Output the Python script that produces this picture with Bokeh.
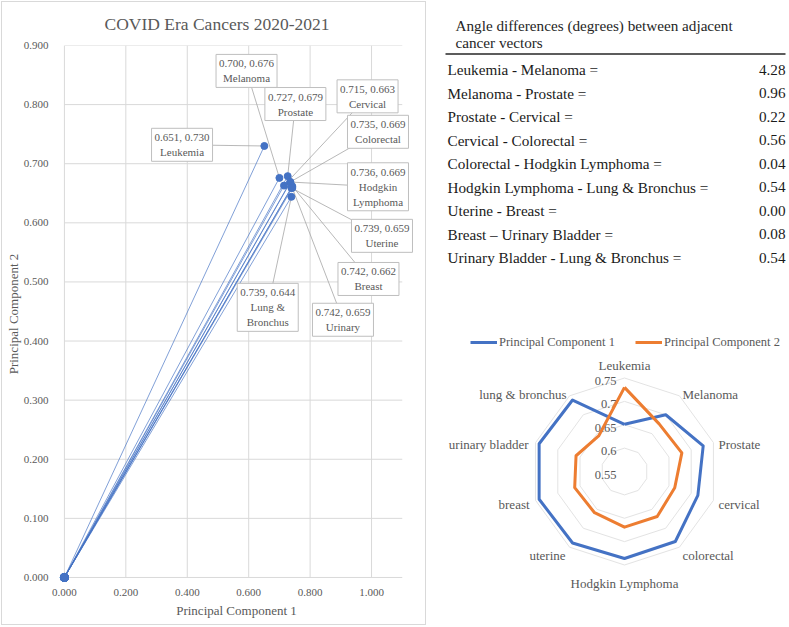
import math
from bokeh.plotting import figure
from bokeh.models import Range1d, FixedTicker, NumeralTickFormatter, Legend, LegendItem, Label
from bokeh.layouts import row, column
from bokeh.embed import file_html
from bokeh.resources import INLINE
from bokeh.core.properties import value

# ---------------- data ----------------
scatter_names = ["Leukemia", "Melanoma", "Prostate", "Cervical", "Colorectal",
                 "Hodgkin\nLymphoma", "Uterine", "Breast", "Urinary", "Lung &\nBronchus"]
pc1 = [0.651, 0.700, 0.727, 0.715, 0.735, 0.736, 0.739, 0.742, 0.742, 0.739]
pc2 = [0.730, 0.676, 0.679, 0.663, 0.669, 0.669, 0.659, 0.662, 0.659, 0.644]
radar_names = ["Leukemia", "Melanoma", "Prostate", "cervical", "colorectal",
               "Hodgkin Lymphoma", "uterine", "breast", "urinary bladder", "lung & bronchus"]
radar_ticks = [0.55, 0.60, 0.65, 0.70, 0.75]
x_ticks = [0.0, 0.2, 0.4, 0.6, 0.8, 1.0]
y_ticks = [0.0, 0.1, 0.2, 0.3, 0.4, 0.5, 0.6, 0.7, 0.8, 0.9]
x_axis_max = 1.1
pair_labels = ["Leukemia - Melanoma =", "Melanoma - Prostate =", "Prostate - Cervical =",
               "Cervical - Colorectal =", "Colorectal - Hodgkin Lymphoma =",
               "Hodgkin Lymphoma - Lung & Bronchus =", "Uterine - Breast =",
               "Breast \u2013 Urinary Bladder =", "Urinary Bladder - Lung & Bronchus ="]
angle_diffs = [4.28, 0.96, 0.22, 0.56, 0.04, 0.54, 0.00, 0.08, 0.54]
table_title = ["Angle differences (degrees) between adjacent", "cancer vectors"]

# ---------------- layout / style (not data) ----------------
FONT = "Liberation Serif"
GREY = "#595959"
BLUE = "#4472C4"
ORANGE = "#ED7D31"
GRID = "#d9d9d9"
# data-label box centres (chart coordinates)
label_box_x = [0.383, 0.593, 0.752, 0.987, 1.021, 1.021, 1.034, 0.990, 0.907, 0.662]
label_box_y = [0.732, 0.857, 0.801, 0.814, 0.754, 0.661, 0.578, 0.505, 0.436, 0.457]

# ---------------- left: scatter ----------------
p = figure(width=423, height=622, x_range=Range1d(-0.016, 1.1366), y_range=Range1d(-0.0085, 0.9),
           output_backend="svg", toolbar_location=None,
           min_border_left=56, min_border_right=12, min_border_top=43, min_border_bottom=42,
           title="COVID Era Cancers 2020-2021")
p.margin = (2, 1, 3, 2)
p.styles = {"outline": "1px solid #d9d9d9"}
p.outline_line_color = None
p.title.align = "left"
p.title.offset = 45
p.title.standoff = 20
p.title.vertical_align = "top"
p.title.text_font = FONT
p.title.text_font_size = "17.5px"
p.title.text_font_style = "normal"
p.title.text_color = GREY

p.xaxis.ticker = FixedTicker(ticks=x_ticks)
p.yaxis.ticker = FixedTicker(ticks=y_ticks)
p.xaxis.formatter = NumeralTickFormatter(format="0.000")
p.yaxis.formatter = NumeralTickFormatter(format="0.000")
p.xaxis.axis_label = "Principal Component 1"
p.yaxis.axis_label = "Principal Component 2"
for ax in (p.xaxis, p.yaxis):
    ax.major_tick_line_color = None
    ax.minor_tick_line_color = None
    ax.axis_line_color = None
    ax.major_label_text_font = FONT
    ax.major_label_text_font_size = "11px"
    ax.major_label_text_color = GREY
    ax.axis_label_text_font = FONT
    ax.axis_label_text_font_size = "13px"
    ax.axis_label_text_font_style = "normal"
    ax.axis_label_text_color = GREY
p.xaxis.major_label_standoff = 0
p.yaxis.major_label_standoff = 5
p.xaxis.axis_label_standoff = 4
p.yaxis.axis_label_standoff = 0
p.grid.visible = False
# gridlines limited to the axis extent (0..max)
p.segment(x0=[0] * len(y_ticks), y0=y_ticks, x1=[x_axis_max] * len(y_ticks), y1=y_ticks,
          line_color=GRID, line_width=1)
p.segment(x0=x_ticks, y0=[0] * len(x_ticks), x1=x_ticks, y1=[y_ticks[-1]] * len(x_ticks),
          line_color=GRID, line_width=1)

n = len(pc1)
p.multi_line(xs=[[0, x] for x in pc1], ys=[[0, y] for y in pc2], line_color=BLUE,
             line_width=0.8, line_alpha=0.85)
p.segment(x0=label_box_x, y0=label_box_y, x1=pc1, y1=pc2, line_color="#a6a6a6", line_width=0.8)
p.scatter(x=[0] * n, y=[0] * n, size=8, color=BLUE)
p.scatter(x=pc1, y=pc2, size=7, color=BLUE)
for x, y, nm, lx, ly in zip(pc1, pc2, scatter_names, label_box_x, label_box_y):
    p.add_layout(Label(x=lx, y=ly, text=f"{x:.3f}, {y:.3f}\n{nm}", text_align="center",
                       text_baseline="middle", text_font=FONT, text_font_size="11px",
                       text_color=GREY, text_line_height=1.25, background_fill_color="white",
                       border_line_color="#bfbfbf", border_line_width=1, padding=3))

# ---------------- right top: table ----------------
TW, TH = 363, 320
t = figure(width=TW, height=TH, x_range=Range1d(0, TW), y_range=Range1d(TH, 0),
           output_backend="svg", toolbar_location=None,
           x_axis_location=None, y_axis_location=None, min_border=0)
t.outline_line_color = None
t.grid.visible = False
t.text(x=[29, 29], y=[25, 42], text=table_title, text_align="left", text_baseline="middle",
       text_font=value(FONT), text_font_size="15.2px", text_color="#262626")
t.segment(x0=[19], y0=[53.5], x1=[359], y1=[53.5], line_color="#262626", line_width=1.3)
row_y = [69 + 23.5 * i for i in range(len(pair_labels))]
t.text(x=[21] * len(pair_labels), y=row_y, text=pair_labels, text_align="left",
       text_baseline="middle", text_font=value(FONT), text_font_size="15.2px", text_color="#1a1a1a")
t.text(x=[359] * len(angle_diffs), y=row_y, text=[f"{v:.2f}" for v in angle_diffs],
       text_align="right", text_baseline="middle", text_font=value(FONT),
       text_font_size="15.2px", text_color="#1a1a1a")

# ---------------- right bottom: radar ----------------
RW, RH = 363, 307
CX, CY, RAD = 198, 151, 93.5
r = figure(width=RW, height=RH,
           x_range=Range1d(-CX / RAD, (RW - CX) / RAD),
           y_range=Range1d(-(RH - CY) / RAD, CY / RAD),
           output_backend="svg", toolbar_location=None,
           x_axis_location=None, y_axis_location=None, min_border=0)
r.outline_line_color = None
r.grid.visible = False

lo, hi = radar_ticks[0], radar_ticks[-1]
k = len(radar_names)
ang = [2 * math.pi * i / k for i in range(k)]


def rad(v):
    return (v - lo) / (hi - lo)


ring_xs, ring_ys = [], []
for tv in radar_ticks[1:]:
    rr = rad(tv)
    ring_xs.append([rr * math.sin(a) for a in ang] + [0])
    ring_ys.append([rr * math.cos(a) for a in ang] + [rr])
r.multi_line(xs=ring_xs, ys=ring_ys, line_color="#e3e3e3", line_width=1)
r.text(x=[0] * len(radar_ticks), y=[rad(tv) for tv in radar_ticks],
       text=[f"{tv:g}" for tv in radar_ticks], x_offset=-8, y_offset=3,
       text_align="right", text_baseline="middle", text_font=value(FONT),
       text_font_size="12.5px", text_color=GREY)

# radar order maps to scatter order one-to-one
r1 = [rad(v) for v in pc1]
r2 = [rad(v) for v in pc2]
bx = [rv * math.sin(a) for rv, a in zip(r1, ang)]
by = [rv * math.cos(a) for rv, a in zip(r1, ang)]
ox = [rv * math.sin(a) for rv, a in zip(r2, ang)]
oy = [rv * math.cos(a) for rv, a in zip(r2, ang)]
l1 = r.line(x=bx + bx[:1], y=by + by[:1], line_color=BLUE, line_width=3, line_join="round")
l2 = r.line(x=ox + ox[:1], y=oy + oy[:1], line_color=ORANGE, line_width=3, line_join="round")

cat_dx = [0, 3, 5, 5, 3, 0, -4, -6, -7, -3]
cat_dy = [-13, -1, 2, 4, 8, 18, 8, 4, 2, -1]
cat_align = ["center", "left", "left", "left", "left", "center", "right", "right", "right", "right"]
for i in range(k):
    r.text(x=[math.sin(ang[i])], y=[math.cos(ang[i])], text=[radar_names[i]],
           x_offset=cat_dx[i], y_offset=cat_dy[i], text_align=cat_align[i],
           text_baseline="middle", text_font=value(FONT), text_font_size="13px",
           text_color=GREY)

leg = Legend(items=[LegendItem(label="Principal Component 1", renderers=[l1]),
                    LegendItem(label="Principal Component 2", renderers=[l2])],
             orientation="horizontal", location=(44, RH - 22 - 8))
leg.label_text_font = FONT
leg.label_text_font_size = "12.5px"
leg.label_text_color = GREY
leg.glyph_width = 27
leg.glyph_height = 16
leg.label_standoff = 2
leg.spacing = 20
leg.padding = 0
leg.margin = 0
leg.border_line_color = None
leg.background_fill_alpha = 0
r.add_layout(leg)

layout = row(p, column(t, r))
open("out.html", "w").write(file_html(layout, INLINE))
